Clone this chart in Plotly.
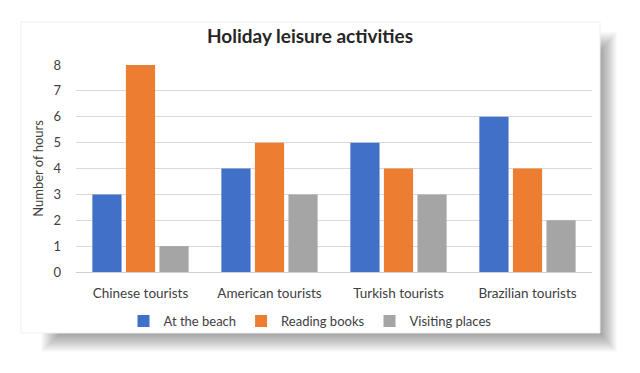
import plotly.graph_objects as go

categories = ["Chinese tourists", "American tourists", "Turkish tourists", "Brazilian tourists"]
beach = [3, 4, 5, 6]
reading = [8, 5, 4, 4]
visiting = [1, 3, 3, 2]
series_names = ["At the beach", "Reading books", "Visiting places"]
colors = ["#4070C8", "#ED7D31", "#A5A5A5"]
y_ticks = [0, 1, 2, 3, 4, 5, 6, 7, 8]

W, H = 640, 373
L, R, T, B = 76, 48, 65, 101
pw, ph = W - L - R, H - T - B

def px(x):
    return (x - L) / pw

def py(y):
    return (H - B - y) / ph

fig = go.Figure()
for name, vals, col in zip(series_names, [beach, reading, visiting], colors):
    fig.add_trace(go.Bar(x=categories, y=vals, name=name, marker=dict(color=col, line=dict(width=0))))

shapes = []
# soft shadow
cx0, cy0, cx1, cy1 = 21, 22, 600, 333
for k in range(1, 21):
    shapes.append(dict(type="rect", xref="paper", yref="paper", layer="below",
                       x0=px(cx0 + 40 - k), x1=px(cx1 + k * 0.85), y0=py(cy0 + 30 - k),
                       y1=py(cy1 + k * 0.95),
                       fillcolor="rgba(0,0,0,0.02)", line=dict(width=0)))
shapes.append(dict(type="rect", xref="paper", yref="paper", layer="below",
                   x0=px(cx0), x1=px(cx1), y0=py(cy0), y1=py(cy1),
                   fillcolor="white", line=dict(width=1, color="#efefef")))

fig.update_layout(
    width=W, height=H,
    margin=dict(l=L, r=R, t=T, b=B, autoexpand=False),
    paper_bgcolor="white", plot_bgcolor="rgba(0,0,0,0)",
    font=dict(family="Lato", color="#404040", size=12),
    title=dict(text="<b>Holiday leisure activities</b>", x=310 / W, xanchor="center",
               y=1 - 36 / H, yanchor="middle", font=dict(size=19, color="#262626")),
    bargap=0.22, bargroupgap=0.13,
    showlegend=True,
    legend=dict(orientation="h", x=px(310), xanchor="center", y=py(321), yanchor="middle",
                font=dict(size=13, color="#404040"), itemwidth=30, bgcolor="rgba(0,0,0,0)",
                traceorder="normal"),
    shapes=shapes,
)
fig.update_xaxes(showgrid=False, showline=False, ticks="", tickfont=dict(size=13.5, color="#404040"),
                 ticklabelstandoff=11)
fig.update_yaxes(range=[0, 8], tickvals=y_ticks, showgrid=True, gridcolor="#d9d9d9", gridwidth=1,
                 zeroline=True, zerolinecolor="#cfcfcf", zerolinewidth=1, showline=False,
                 tickfont=dict(size=13, color="#404040"), ticklabelstandoff=14,
                 title=dict(text="Number of hours", font=dict(size=13, color="#404040"), standoff=6))

fig.write_html("out.html", config={"displayModeBar": False},
               post_script="document.body.style.margin='0';document.body.style.padding='0';")
